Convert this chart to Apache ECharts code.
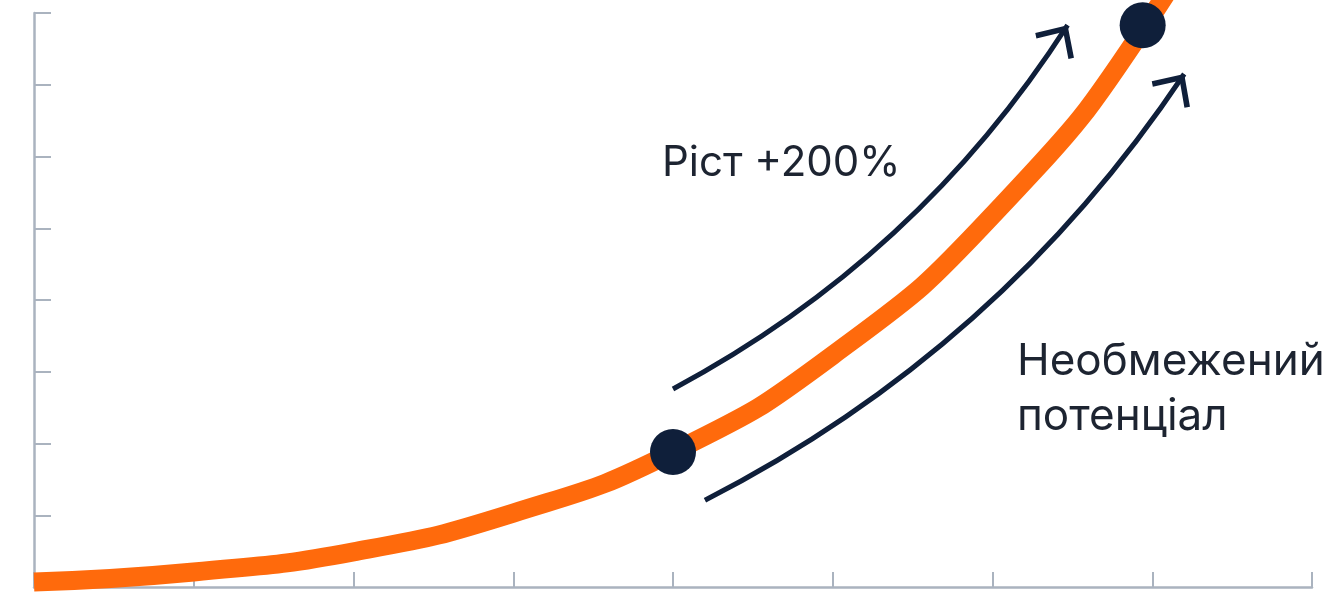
<!DOCTYPE html>
<html>
<head>
<meta charset="utf-8">
<script src="https://cdn.jsdelivr.net/npm/echarts@6/dist/echarts.min.js"></script>
<style>
  html, body { margin: 0; padding: 0; background: #ffffff; }
  #chart { width: 1334px; height: 595px; }
</style>
</head>
<body>
<div id="chart"></div>
<script>
// крива зростання (x, y у поділках осей)
var growthX = [0, 1, 2, 3, 4, 5, 6, 7, 8];
var growthY = [0.07, 0.21, 0.49, 1.03, 1.88, 3.23, 5.18, 7.97, 11.9];
// ключові точки
var dotX = [4.0, 6.94];
var dotY = [1.88, 7.83];
// стрілки: початок і вістря
var arrowUpper = [[4.0, 2.76], [6.47, 7.83]];
var arrowLower = [[4.2, 1.21], [7.2, 7.15]];
var labelGrowth = "Ріст +200%";
var labelPotential = "Необмежений\nпотенціал";

var navy = "#0f1f3a";
var axisColor = "#aab3bf";
// відкрите вістря; дві крихітні точки роблять рамку квадратною з центром у вістрі
var chevron = "path://M-5,-28 L-4.95,-28 L-5,-27.95 Z " +
  "M23,0 L46,24 L42,28 L23,8 L4,28 L0,24 Z " +
  "M51,28 L50.95,28 L51,27.95 Z";

var chart = echarts.init(document.getElementById("chart"));
var option = {
  backgroundColor: "#ffffff",
  animation: false,
  grid: { left: 34, right: 22, top: 13, bottom: 8 },
  xAxis: {
    type: "value",
    min: 0, max: 8, interval: 1,
    axisLine: { show: true, lineStyle: { color: axisColor, width: 2.5 } },
    axisTick: { show: true, inside: true, length: 15, lineStyle: { color: axisColor, width: 2 } },
    axisLabel: { show: false },
    splitLine: { show: false }
  },
  yAxis: {
    type: "value",
    min: 0, max: 8, interval: 1,
    axisLine: { show: true, lineStyle: { color: axisColor, width: 2.5 } },
    axisTick: { show: true, inside: true, length: 17, lineStyle: { color: axisColor, width: 2 } },
    axisLabel: { show: false },
    splitLine: { show: false }
  },
  series: [
    {
      type: "line",
      smooth: 0.5,
      clip: false,
      showSymbol: false,
      data: growthX.map(function (x, i) { return [x, growthY[i]]; }),
      lineStyle: { color: "#ff6a0c", width: 19, cap: "butt" },
      z: 2
    },
    {
      type: "lines",
      coordinateSystem: "cartesian2d",
      symbol: ["none", chevron],
      symbolSize: 56,
      lineStyle: { color: navy, width: 5, curveness: -0.13, opacity: 1 },
      data: [{ coords: arrowUpper }, { coords: arrowLower }],
      z: 3
    },
    {
      type: "scatter",
      symbolSize: 46,
      data: dotX.map(function (x, i) { return [x, dotY[i]]; }),
      itemStyle: { color: navy, opacity: 1 },
      z: 4
    }
  ],
  graphic: [
    {
      type: "text", left: 662, top: 142,
      style: { text: labelGrowth, font: "42px Inter", fill: "#1d2431" }
    },
    {
      type: "text", left: 1017, top: 334,
      style: { text: labelPotential, font: "44px Inter", lineHeight: 55, fill: "#1d2431" }
    }
  ]
};
chart.setOption(option);
</script>
</body>
</html>
